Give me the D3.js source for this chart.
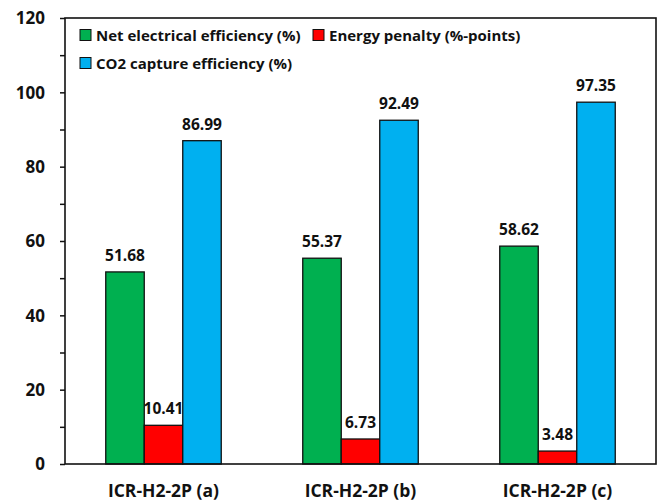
<!DOCTYPE html>
<html><head><meta charset="utf-8">
<script src="https://cdn.jsdelivr.net/npm/d3@7"></script>
<style>body{margin:0;background:#fff}svg{display:block}text{font-family:"Open Sans",Lato,sans-serif;font-weight:bold;fill:#111}</style>
</head><body><svg id="c" width="664" height="502"></svg>
<script>
const categories = ["ICR-H2-2P (a)", "ICR-H2-2P (b)", "ICR-H2-2P (c)"];
const seriesNames = ["Net electrical efficiency (%)", "Energy penalty (%-points)", "CO2 capture efficiency (%)"];
const netEff = [51.68, 55.37, 58.62];
const penalty = [10.41, 6.73, 3.48];
const co2Eff = [86.99, 92.49, 97.35];
const yTicks = [0, 20, 40, 60, 80, 100, 120];
const colors = ["#00B050", "#FF0000", "#00B0F0"];
const series = [netEff, penalty, co2Eff];

const svg = d3.select("#c");
const L = 65, R = 656, T = 18, B = 464;
const x = d3.scaleBand().domain(categories).range([L, R]).paddingInner(0).paddingOuter(0);
const y = d3.scaleLinear().domain([0, 120]).range([B, T]);
const barW = 38.5;

// axes
const yAxis = d3.axisLeft(y).tickValues(d3.range(0, 121, 10)).tickSize(5).tickFormat(d => yTicks.includes(d) ? d : "");
const ga = svg.append("g").attr("transform", `translate(${L},0)`).call(yAxis);
ga.select(".domain").remove();
ga.selectAll(".tick line").attr("stroke", "#111").attr("stroke-width", 1.5);
ga.selectAll(".tick text").attr("x", -20).attr("dy", "0.34em").style("font-size", "17px").style("font-family", "'Open Sans',sans-serif").style("font-weight", "bold").attr("fill", "#111");

// bars
categories.forEach((c, i) => {
  const cx = x(c) + x.bandwidth() / 2;
  series.forEach((s, j) => {
    const x0 = cx + (j - 1.5) * barW;
    svg.append("rect").attr("x", x0).attr("y", y(s[i])).attr("width", barW).attr("height", B - y(s[i]))
      .attr("fill", colors[j]).attr("stroke", "#111").attr("stroke-width", 1.3);
    svg.append("text").attr("x", x0 + barW / 2).attr("y", y(s[i]) - 11).attr("text-anchor", "middle")
      .style("font-size", "15.5px").text(s[i].toFixed(2));
  });
  svg.append("text").attr("x", cx).attr("y", 497).attr("text-anchor", "middle").style("font-size", "17.5px").text(c);
});

// frame
svg.append("rect").attr("x", L).attr("y", T).attr("width", R - L).attr("height", B - T)
  .attr("fill", "none").attr("stroke", "#111").attr("stroke-width", 1.6);

// legend
const leg = [[80, 35], [313, 35], [80, 63]];
seriesNames.forEach((n, j) => {
  svg.append("rect").attr("x", leg[j][0]).attr("y", leg[j][1] - 5.5).attr("width", 11).attr("height", 11)
    .attr("fill", colors[j]).attr("stroke", "#111").attr("stroke-width", 1);
  svg.append("text").attr("x", leg[j][0] + 16).attr("y", leg[j][1] + 5.5).style("font-size", "15px").text(n);
});
</script></body></html>
